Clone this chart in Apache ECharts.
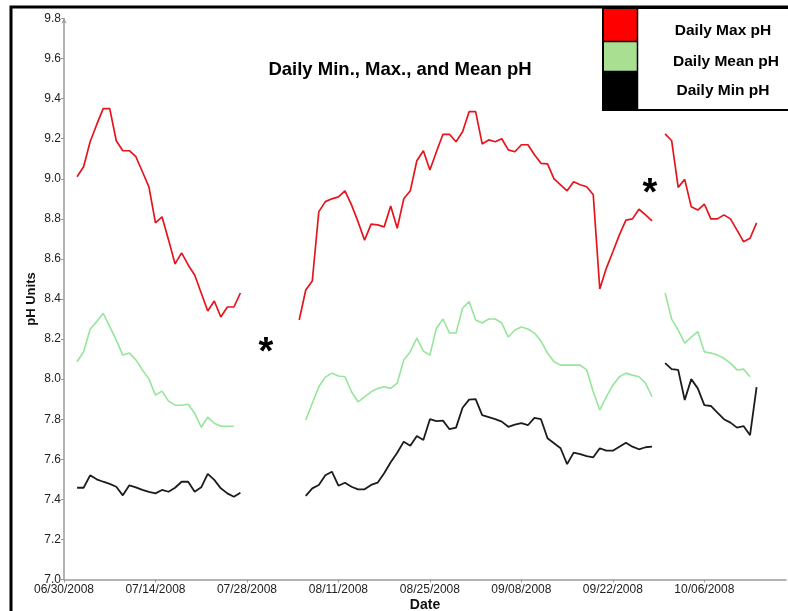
<!DOCTYPE html>
<html>
<head>
<meta charset="utf-8">
<script src="https://cdn.jsdelivr.net/npm/echarts@6/dist/echarts.min.js"></script>
<style>
  html, body { margin: 0; padding: 0; background: #fff; }
  #chart { width: 788px; height: 611px; }
</style>
</head>
<body>
<div id="chart"></div>
<script>
// Axis origin and first sampled day
const axisStart = '06/30/2008';
const firstDate = '07/02/2008';

// Daily values from 07/02/2008 to 10/14/2008 (null = no record)
const maxPH = [
  9.01, 9.06, 9.185, 9.27, 9.35, 9.35, 9.19, 9.14, 9.14, 9.11,
  9.035, 8.96, 8.78, 8.81, 8.695, 8.575, 8.63, 8.57, 8.52, 8.43,
  8.34, 8.39, 8.31, 8.36, 8.36, 8.43, null, null, null, null,
  null, null, null, null, 8.295, 8.445, 8.49, 8.836, 8.886, 8.90,
  8.91, 8.94, 8.87, 8.786, 8.694, 8.774, 8.77, 8.76, 8.864, 8.753,
  8.90, 8.94, 9.09, 9.14, 9.044, 9.135, 9.222, 9.222, 9.185, 9.235,
  9.335, 9.335, 9.174, 9.194, 9.185, 9.20, 9.144, 9.135, 9.17, 9.17,
  9.12, 9.077, 9.074, 9.0, 8.97, 8.94, 8.985, 8.97, 8.96, 8.92,
  8.45, 8.553, 8.636, 8.72, 8.794, 8.80, 8.848, 8.82, 8.79, null,
  9.224, 9.19, 8.957, 8.997, 8.86, 8.844, 8.874, 8.80, 8.80, 8.82,
  8.80, 8.744, 8.686, 8.703, 8.78
];
const meanPH = [
  8.087, 8.137, 8.249, 8.287, 8.329, 8.262, 8.195, 8.12, 8.13, 8.096,
  8.046, 8.0, 7.92, 7.94, 7.89, 7.87, 7.87, 7.875, 7.83, 7.76,
  7.81, 7.78, 7.765, 7.765, 7.765, null, null, null, null, null,
  null, null, null, null, null, 7.796, 7.88, 7.962, 8.01, 8.03,
  8.016, 8.012, 7.937, 7.887, 7.912, 7.937, 7.954, 7.962, 7.954, 7.98,
  8.096, 8.137, 8.205, 8.14, 8.12, 8.254, 8.30, 8.23, 8.23, 8.354,
  8.387, 8.295, 8.28, 8.30, 8.30, 8.28, 8.21, 8.245, 8.26, 8.25,
  8.23, 8.19, 8.13, 8.087, 8.07, 8.07, 8.07, 8.07, 8.046, 7.937,
  7.846, 7.912, 7.97, 8.012, 8.03, 8.02, 8.012, 7.98, 7.912, null,
  8.43, 8.30, 8.245, 8.18, 8.21, 8.237, 8.137, 8.13, 8.12, 8.104,
  8.08, 8.046, 8.05, 8.012, null
];
const minPH = [
  7.458, 7.458, 7.52, 7.50, 7.488, 7.477, 7.463, 7.42, 7.47, 7.46,
  7.447, 7.437, 7.43, 7.447, 7.438, 7.458, 7.488, 7.488, 7.438, 7.46,
  7.527, 7.497, 7.455, 7.43, 7.413, 7.433, null, null, null, null,
  null, null, null, null, null, 7.417, 7.455, 7.472, 7.52, 7.538,
  7.468, 7.483, 7.463, 7.45, 7.45, 7.472, 7.483, 7.53, 7.585, 7.633,
  7.688, 7.668, 7.716, 7.696, 7.80, 7.79, 7.793, 7.75, 7.758, 7.857,
  7.898, 7.90, 7.82, 7.81, 7.80, 7.788, 7.762, 7.773, 7.78, 7.77,
  7.807, 7.80, 7.705, 7.68, 7.655, 7.576, 7.633, 7.626, 7.616, 7.61,
  7.655, 7.643, 7.643, 7.663, 7.683, 7.663, 7.65, 7.66, 7.663, null,
  8.08, 8.05, 8.046, 7.896, 8.0, 7.954, 7.87, 7.866, 7.833, 7.80,
  7.783, 7.758, 7.766, 7.72, 7.96
];

// Axis settings
const yTicks = { min: 7.0, max: 9.8, step: 0.2 };
const dayStep = 14;
const lastAxisDay = 110.5;

const DAY = 86400000;
function parseMDY(s) {
  const [m, d, y] = s.split('/').map(Number);
  return Date.UTC(y, m - 1, d);
}
const origin = parseMDY(axisStart);
const firstOffset = Math.round((parseMDY(firstDate) - origin) / DAY);

function fmtDay(v) {
  const dt = new Date(origin + v * DAY);
  const mm = String(dt.getUTCMonth() + 1).padStart(2, '0');
  const dd = String(dt.getUTCDate()).padStart(2, '0');
  return mm + '/' + dd + '/' + dt.getUTCFullYear();
}
function toPairs(arr) {
  return arr.map((v, i) => [firstOffset + i, v]);
}

const chart = echarts.init(document.getElementById('chart'), null, { renderer: 'canvas' });
const font = '"Liberation Sans", Arial, Helvetica, sans-serif';

chart.setOption({
  animation: false,
  backgroundColor: '#ffffff',
  grid: { left: 64, right: 2, top: 18.5, bottom: 31.5, containLabel: false, outerBoundsMode: 'none' },
  xAxis: {
    type: 'value',
    min: 0,
    max: lastAxisDay,
    interval: dayStep,
    name: 'Date',
    nameLocation: 'middle',
    nameGap: 18.5,
    nameMoveOverlap: false,
    nameTextStyle: { fontFamily: font, fontWeight: 'bold', fontSize: 14, color: '#111' },
    axisLine: { lineStyle: { color: '#9a9a9a', width: 1.5 } },
    axisTick: { length: 3, lineStyle: { color: '#9a9a9a' } },
    axisLabel: {
      fontFamily: font, fontSize: 12, color: '#222', margin: 4,
      showMaxLabel: false,
      formatter: v => (v % dayStep === 0 ? fmtDay(v) : '')
    },
    splitLine: { show: false }
  },
  yAxis: {
    type: 'value',
    min: yTicks.min,
    max: yTicks.max,
    interval: yTicks.step,
    name: 'pH Units',
    nameLocation: 'middle',
    nameRotate: 90,
    nameGap: 26,
    nameMoveOverlap: false,
    nameTextStyle: { fontFamily: font, fontWeight: 'bold', fontSize: 13, color: '#111' },
    axisLine: { show: true, symbol: ['none', 'arrow'], symbolSize: [4, 5], lineStyle: { color: '#9a9a9a', width: 1.5 } },
    axisTick: { show: true, length: 3, lineStyle: { color: '#9a9a9a' } },
    axisLabel: {
      fontFamily: font, fontSize: 12, color: '#222', margin: 3,
      formatter: v => v.toFixed(1)
    },
    splitLine: { show: false }
  },
  series: [
    {
      name: 'Daily Max pH', type: 'line', data: toPairs(maxPH),
      showSymbol: false, connectNulls: false,
      lineStyle: { color: '#e5151d', width: 1.7 }, itemStyle: { color: '#e5151d' }
    },
    {
      name: 'Daily Mean pH', type: 'line', data: toPairs(meanPH),
      showSymbol: false, connectNulls: false,
      lineStyle: { color: '#97e59b', width: 1.6 }, itemStyle: { color: '#97e59b' }
    },
    {
      name: 'Daily Min pH', type: 'line', data: toPairs(minPH),
      showSymbol: false, connectNulls: false,
      lineStyle: { color: '#1c1c1c', width: 1.8 }, itemStyle: { color: '#1c1c1c' }
    }
  ],
  graphic: [
    // outer frame
    { type: 'rect', z: 0, silent: true,
      shape: { x: 11, y: 7, width: 800, height: 640 },
      style: { fill: null, stroke: '#000', lineWidth: 3 } },
    // title
    { type: 'text', z: 10, x: 400, y: 70,
      style: { text: 'Daily Min., Max., and Mean pH', font: 'bold 18.5px ' + font, fill: '#000',
               textAlign: 'center', textVerticalAlign: 'middle' } },
    // gap markers
    { type: 'text', z: 10, x: 266, y: 354,
      style: { text: '*', font: 'bold 38px ' + font, fill: '#000', textAlign: 'center', textVerticalAlign: 'middle' } },
    { type: 'text', z: 10, x: 650, y: 195,
      style: { text: '*', font: 'bold 38px ' + font, fill: '#000', textAlign: 'center', textVerticalAlign: 'middle' } },
    // legend box
    { type: 'rect', z: 20, shape: { x: 603, y: 8, width: 200, height: 102 },
      style: { fill: '#fff', stroke: '#000', lineWidth: 2 } },
    { type: 'rect', z: 21, shape: { x: 604, y: 9, width: 33, height: 32 }, style: { fill: '#ff0000' } },
    { type: 'rect', z: 21, shape: { x: 604, y: 42, width: 33, height: 29 }, style: { fill: '#a8df91' } },
    { type: 'rect', z: 21, shape: { x: 604, y: 72, width: 33, height: 38 }, style: { fill: '#000' } },
    { type: 'line', z: 22, shape: { x1: 604, y1: 41.5, x2: 637, y2: 41.5 }, style: { stroke: '#000', lineWidth: 1.5 } },
    { type: 'line', z: 22, shape: { x1: 604, y1: 71.5, x2: 637, y2: 71.5 }, style: { stroke: '#000', lineWidth: 1.5 } },
    { type: 'line', z: 22, shape: { x1: 637.5, y1: 8, x2: 637.5, y2: 110 }, style: { stroke: '#000', lineWidth: 1.5 } },
    { type: 'text', z: 23, x: 723, y: 31,
      style: { text: 'Daily Max pH', font: 'bold 15.5px ' + font, fill: '#000', textAlign: 'center', textVerticalAlign: 'middle' } },
    { type: 'text', z: 23, x: 726, y: 62,
      style: { text: 'Daily Mean pH', font: 'bold 15.5px ' + font, fill: '#000', textAlign: 'center', textVerticalAlign: 'middle' } },
    { type: 'text', z: 23, x: 723, y: 91,
      style: { text: 'Daily Min pH', font: 'bold 15.5px ' + font, fill: '#000', textAlign: 'center', textVerticalAlign: 'middle' } }
  ]
});
</script>
</body>
</html>
